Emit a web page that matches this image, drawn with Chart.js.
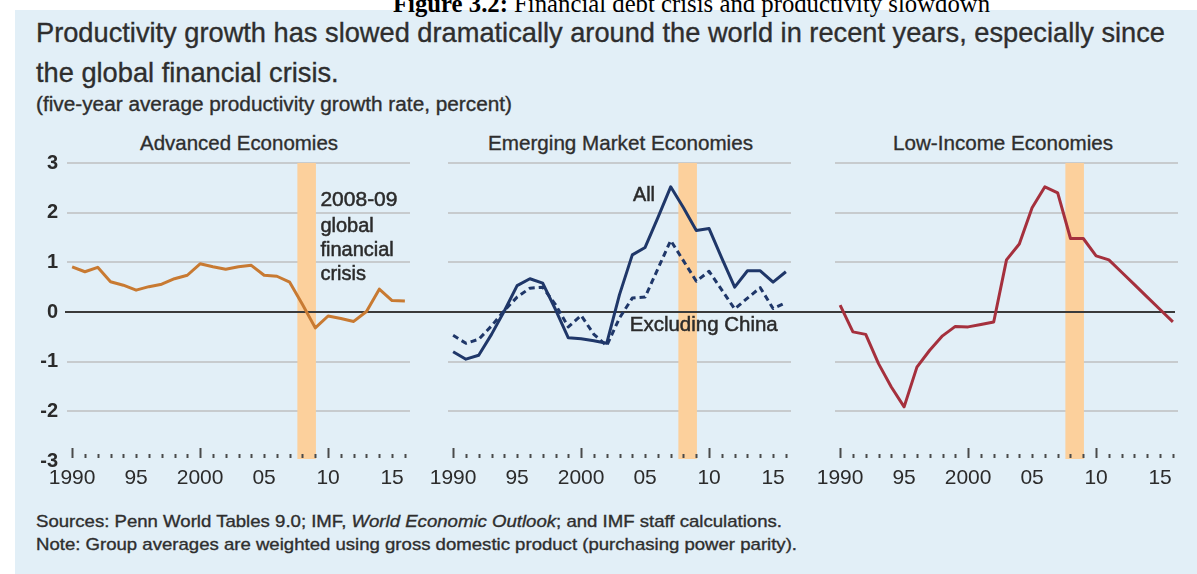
<!DOCTYPE html>
<html>
<head>
<meta charset="utf-8">
<script src="https://cdn.jsdelivr.net/npm/chart.js@4.4.1/dist/chart.umd.min.js"></script>
<style>
  body { margin: 0; width: 1197px; height: 574px; overflow: hidden; position: relative; background: #fff;
         font-family: 'Liberation Sans', Arial, sans-serif; }
  #panel { position: absolute; left: 15px; top: 10px; right: 0; bottom: 0; background: #e2eff7; }
  .txt { position: absolute; white-space: nowrap; line-height: 1; color: #2e2e2e; transform-origin: 0 50%;
         -webkit-text-stroke: 0.35px #2e2e2e; }
  #caption { font-family: 'Liberation Serif', 'Times New Roman', serif; color: #000; z-index: 2; -webkit-text-stroke: 0; }
  canvas { position: absolute; top: 150px; }
</style>
</head>
<body>
<div id="panel"></div>

<div class="txt" id="caption" style="left:393px; top:-9px; font-size:25px;" data-w="597"><b>Figure 3.2:</b> Financial debt crisis and productivity slowdown</div>
<div class="txt" id="title1" style="left:36px; top:19px; font-size:28px;" data-w="1129">Productivity growth has slowed dramatically around the world in recent years, especially since</div>
<div class="txt" id="title2" style="left:36px; top:59px; font-size:28px;" data-same="title1">the global financial crisis.</div>
<div class="txt" style="left:36px; top:94px; font-size:20px;" data-w="476">(five-year average productivity growth rate, percent)</div>

<div class="txt" style="top:132px; font-size:21px;" data-cx="239" data-w="198">Advanced Economies</div>
<div class="txt" style="top:132px; font-size:21px;" data-cx="620" data-w="265">Emerging Market Economies</div>
<div class="txt" style="top:132px; font-size:21px;" data-cx="1003" data-w="220">Low-Income Economies</div>

<div class="txt" style="left:36px; top:513px; font-size:17px;" data-w="746">Sources: Penn World Tables 9.0; IMF, <i>World Economic Outlook</i>; and IMF staff calculations.</div>
<div class="txt" style="left:36px; top:536px; font-size:17px;" data-w="761">Note: Group averages are weighted using gross domestic product (purchasing power parity).</div>

<canvas id="adv" width="410" height="350" style="left:15px"></canvas>
<canvas id="eme" width="387" height="350" style="left:425px"></canvas>
<canvas id="low" width="385" height="350" style="left:812px"></canvas>

<script>
// five-year average productivity growth, percent
const years = [1990, 1991, 1992, 1993, 1994, 1995, 1996, 1997, 1998, 1999,
               2000, 2001, 2002, 2003, 2004, 2005, 2006, 2007, 2008, 2009,
               2010, 2011, 2012, 2013, 2014, 2015, 2016];

const advanced = [0.91, 0.81, 0.90, 0.61, 0.54, 0.44, 0.51, 0.56, 0.67, 0.74,
                  0.97, 0.91, 0.86, 0.91, 0.94, 0.74, 0.72, 0.60, 0.15, -0.32,
                  -0.08, -0.13, -0.19, 0.01, 0.46, 0.23, 0.22];

const emergingAll = [-0.80, -0.95, -0.87, -0.45, 0.02, 0.53, 0.67, 0.58, 0.05, -0.52,
                     -0.54, -0.58, -0.63, 0.35, 1.15, 1.30, 1.90, 2.52, 2.10, 1.64,
                     1.68, 1.08, 0.50, 0.83, 0.83, 0.60, 0.81];

const emergingExChina = [-0.47, -0.63, -0.55, -0.28, 0.03, 0.30, 0.48, 0.50, 0.15, -0.30,
                         -0.07, -0.45, -0.68, -0.12, 0.28, 0.30, 0.87, 1.44, 1.03, 0.62,
                         0.82, 0.44, 0.06, 0.28, 0.49, 0.07, 0.19];

const lowIncome = [0.14, -0.40, -0.45, -1.04, -1.51, -1.91, -1.11, -0.77, -0.48, -0.29,
                   -0.30, -0.25, -0.20, 1.05, 1.37, 2.10, 2.52, 2.40, 1.48, 1.48,
                   1.13, 1.05, 0.80, 0.55, 0.30, 0.05, -0.20];

const yTicks = [-3, -2, -1, 0, 1, 2, 3];
const xTickYears = [1990, 1995, 2000, 2005, 2010, 2015];
const xTickLabels = ['1990', '95', '2000', '05', '10', '15'];
const crisisBand = [2007.6, 2009.05];

const FONT = "'Liberation Sans', Arial, sans-serif";
const TEXT = '#2b2b2b';

// squeeze/stretch the html text lines to their set widths
function fitText() {
  document.querySelectorAll('.txt').forEach(el => {
    if (el.dataset.same) return;
    const natural = el.getBoundingClientRect().width;
    const w = +el.dataset.w;
    if (el.dataset.cx) el.style.left = (+el.dataset.cx - w / 2) + 'px';
    el.dataset.k = w / natural;
    el.style.transform = 'scaleX(' + (w / natural) + ')';
  });
  document.querySelectorAll('[data-same]').forEach(el => {
    const k = document.getElementById(el.dataset.same).dataset.k;
    el.style.transform = 'scaleX(' + k + ')';
  });
}
fitText();

// orange shading for the 2008-09 crisis
const crisisPlugin = {
  id: 'crisis',
  beforeDatasetsDraw(chart) {
    const { ctx, chartArea, scales: { x } } = chart;
    const x0 = x.getPixelForValue(crisisBand[0]);
    const x1 = x.getPixelForValue(crisisBand[1]);
    ctx.save();
    ctx.fillStyle = '#fcd09c';
    ctx.fillRect(x0, chartArea.top, x1 - x0, chartArea.bottom - chartArea.top - 2);
    ctx.restore();
  }
};

// dark zero line, runs on across the gaps between panels
function zeroLine(p) {
  return {
    id: 'zeroLine',
    beforeDatasetsDraw(chart) {
      const { ctx, chartArea, scales: { y } } = chart;
      const py = Math.round(y.getPixelForValue(0));
      const from = p.zeroFrom === 'area' ? chartArea.left - 2 : 0;
      const to = p.zeroTo === 'area' ? chartArea.right - 3 : chart.width;
      ctx.save();
      ctx.strokeStyle = '#3a3a3a';
      ctx.lineWidth = 2;
      ctx.beginPath();
      ctx.moveTo(from, py);
      ctx.lineTo(to, py);
      ctx.stroke();
      ctx.restore();
    }
  };
}

// one tick per year along the bottom, longer on the decades
const yearTicks = {
  id: 'yearTicks',
  afterDatasetsDraw(chart) {
    const { ctx, chartArea, scales: { x } } = chart;
    const base = chartArea.bottom - 3;
    ctx.save();
    ctx.strokeStyle = '#4a4a4a';
    ctx.lineWidth = 2;
    years.forEach(yr => {
      const px = Math.round(x.getPixelForValue(yr)) + 0.5;
      const len = yr % 10 === 0 ? 10 : 4;
      ctx.beginPath();
      ctx.moveTo(px, base);
      ctx.lineTo(px, base - len);
      ctx.stroke();
    });
    ctx.restore();
  }
};

// in-chart labels, placed in data units; w squeezes the text a little
function notes(p) {
  return {
    id: 'notes',
    afterDatasetsDraw(chart) {
      const { ctx, scales: { x, y } } = chart;
      ctx.save();
      ctx.fillStyle = TEXT;
      ctx.strokeStyle = TEXT;
      ctx.lineWidth = 0.5;
      ctx.textAlign = 'left';
      ctx.textBaseline = 'middle';
      p.notes.forEach(n => {
        ctx.font = n.size + 'px ' + FONT;
        const px = x.getPixelForValue(n.x);
        const py = y.getPixelForValue(n.y);
        ctx.fillText(n.text, px, py, n.w);
        ctx.strokeText(n.text, px, py, n.w);
      });
      ctx.restore();
    }
  };
}

const panels = [
  {
    id: 'adv', yAxisWidth: 52, padRight: 15, showY: true, zeroFrom: 'area', zeroTo: 'edge',
    series: [{ values: advanced, color: '#c87a32' }],
    notes: [
      { text: '2008-09', x: 2009.4, y: 2.25, size: 21, w: 88 },
      { text: 'global', x: 2009.4, y: 1.73, size: 20, w: 58 },
      { text: 'financial', x: 2009.4, y: 1.24, size: 20, w: 80 },
      { text: 'crisis', x: 2009.4, y: 0.75, size: 20, w: 50 }
    ]
  },
  {
    id: 'eme', yAxisWidth: 23, padRight: 21, showY: false, zeroFrom: 'edge', zeroTo: 'edge',
    series: [
      { values: emergingAll, color: '#1f3769' },
      { values: emergingExChina, color: '#1f3769', dash: [6, 4] }
    ],
    notes: [
      { text: 'All', x: 2004.05, y: 2.34, size: 20, w: 22 },
      { text: 'Excluding China', x: 2003.8, y: -0.27, size: 21, w: 148 }
    ]
  },
  {
    id: 'low', yAxisWidth: 23, padRight: 19, showY: false, zeroFrom: 'edge', zeroTo: 'area',
    series: [{ values: lowIncome, color: '#a5303d' }],
    notes: []
  }
];

panels.forEach(p => {
  new Chart(document.getElementById(p.id), {
    type: 'line',
    data: {
      datasets: p.series.map(s => ({
        data: years.map((yr, i) => ({ x: yr, y: s.values[i] })),
        borderColor: s.color,
        borderWidth: 3,
        borderDash: s.dash || [],
        borderJoinStyle: 'round',
        pointRadius: 0,
        tension: 0,
        fill: false
      }))
    },
    options: {
      responsive: false,
      animation: false,
      devicePixelRatio: 1,
      layout: { padding: { top: 13, right: p.padRight, bottom: 0, left: 0 } },
      plugins: { legend: { display: false }, tooltip: { enabled: false } },
      scales: {
        x: {
          type: 'linear', min: 1989.6, max: 2016.4,
          grid: { display: false, drawTicks: false },
          border: { display: false },
          afterBuildTicks: s => { s.ticks = xTickYears.map(v => ({ value: v })); },
          afterFit: s => { s.height = 39; s.paddingLeft = 0; s.paddingRight = 0; },
          ticks: {
            autoSkip: false, maxRotation: 0, padding: 5, color: TEXT,
            font: { family: FONT, size: 21 },
            callback: v => xTickLabels[xTickYears.indexOf(v)]
          }
        },
        y: {
          min: -3, max: 3,
          grid: {
            drawTicks: false, lineWidth: 2,
            color: c => (c.tick.value === 0 || c.tick.value === -3) ? 'rgba(0,0,0,0)' : '#c7cbce'
          },
          border: { display: false },
          afterBuildTicks: s => { s.ticks = yTicks.map(v => ({ value: v })); },
          afterFit: s => { s.width = p.yAxisWidth; s.paddingTop = 0; s.paddingBottom = 0; },
          ticks: { display: p.showY, padding: 9, color: TEXT, font: { family: FONT, size: 20, weight: 'bold' } }
        }
      }
    },
    plugins: [crisisPlugin, zeroLine(p), yearTicks, notes(p)]
  });
});
</script>
</body>
</html>
